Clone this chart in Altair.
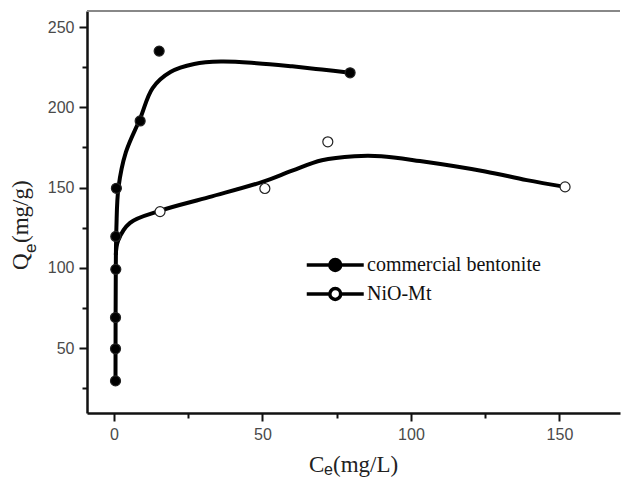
import altair as alt
import pandas as pd

# ---- data ----
series_names = ["commercial bentonite", "NiO-Mt"]

bent_x = [0.5, 0.5, 0.5, 0.6, 0.6, 0.8, 8.8, 15.2, 79.5]
bent_y = [29.5, 49.5, 69.0, 99.0, 119.5, 149.5, 191.5, 235.0, 221.5]

nio_x = [15.5, 50.8, 72.0, 151.9]
nio_y = [135.0, 149.4, 178.5, 150.4]

bent_fit_x = [0.5, 0.6, 0.8, 1.5, 4.0, 8.8, 13.0, 19.0, 27.0, 36.0, 48.0, 60.0, 70.0, 79.5]
bent_fit_y = [30.0, 100.0, 125.0, 150.0, 172.0, 193.0, 212.0, 222.0, 227.0, 228.5, 227.5, 225.5, 223.5, 221.5]

nio_fit_x = [0.6, 1.4, 5.4, 15.5, 32.0, 50.0, 60.0, 70.0, 81.0, 90.0, 103.0, 125.0, 139.0, 151.9]
nio_fit_y = [108.0, 117.0, 128.0, 135.5, 144.0, 153.5, 160.5, 167.0, 169.5, 169.5, 166.5, 160.0, 154.6, 150.4]

x_ticks = [0, 25, 50, 75, 100, 125, 150]
y_ticks = [25, 50, 75, 100, 125, 150, 175, 200, 225, 250]

x_title = ["C", "e", "(mg/L)"]
y_title = ["Q", "e", "(mg/g)"]

pts = pd.DataFrame(
    {"x": bent_x + nio_x,
     "y": bent_y + nio_y,
     "series": [series_names[0]] * len(bent_x) + [series_names[1]] * len(nio_x)}
)
fit = pd.DataFrame(
    {"x": bent_fit_x + nio_fit_x,
     "y": bent_fit_y + nio_fit_y,
     "series": [series_names[0]] * len(bent_fit_x) + [series_names[1]] * len(nio_fit_x),
     "i": list(range(len(bent_fit_x))) + list(range(len(nio_fit_x)))}
)

W, H = 533, 402

xscale = alt.Scale(domain=[-9.1, 170.4], nice=False, zero=False)
yscale = alt.Scale(domain=[9.5, 260], nice=False, zero=False)

common_axis = dict(
    grid=False, title=None,
    domainColor="#111", domainWidth=2.5,
    tickColor="#111", tickWidth=2,
    labelFont="Liberation Sans", labelFontSize=16, labelColor="#4a4a4a",
    labelPadding=5,
    labelExpr="datum.value % 50 === 0 ? datum.label : ''",
    tickSize={"condition": {"test": "datum.value % 50 === 0", "value": 8}, "value": 5},
)

xaxis = alt.Axis(values=x_ticks, **common_axis)
yaxis = alt.Axis(values=y_ticks, **common_axis)

lines = alt.Chart(fit).mark_line(
    color="black", strokeWidth=4, interpolate="catmull-rom"
).encode(
    x=alt.X("x:Q", scale=xscale, axis=xaxis),
    y=alt.Y("y:Q", scale=yscale, axis=yaxis),
    detail="series:N",
    order="i:Q",
)

legend_path = ("M-1,0L0.62,0M1.38,0L3,0"
               "M0.62,0A0.38,0.38 0 1,1 1.38,0A0.38,0.38 0 1,1 0.62,0Z")

points = alt.Chart(pts).mark_circle(
    size=100, opacity=1, stroke="#222", strokeWidth=1.2
).encode(
    x=alt.X("x:Q", scale=xscale),
    y=alt.Y("y:Q", scale=yscale),
    fill=alt.Fill(
        "series:N",
        scale=alt.Scale(domain=series_names, range=["black", "white"]),
        legend=alt.Legend(
            title=None, orient="none", legendX=218, legendY=238,
            symbolType=legend_path, symbolSize=812,
            symbolStrokeColor="black", symbolStrokeWidth=3.5,
            labelOffset=30, rowPadding=0, padding=0, labelLimit=0,
            labelFont="Liberation Serif", labelFontSize=20, labelColor="#111",
        ),
    ),
)

one = pd.DataFrame({"a": [0]})

topline = alt.Chart(one).mark_rule(color="#888888", strokeWidth=2).encode(
    x=alt.value(0), x2=alt.value(W), y=alt.value(0)
)


def piece(txt, x, y, font, size, angle=0):
    return alt.Chart(one).mark_text(
        text=txt, font=font, fontSize=size, color="#222",
        align="left", baseline="alphabetic", angle=angle,
    ).encode(x=alt.value(x), y=alt.value(y))


serif, sans = "Liberation Serif", "Liberation Sans"
titles = [
    piece(x_title[0], 222, 461, serif, 23),
    piece(x_title[1], 237, 464, sans, 16),
    piece(x_title[2], 246, 461, serif, 23),
    piece(y_title[0], -59, 259, serif, 23, 270),
    piece(y_title[1], -51, 242, sans, 17, 270),
    piece(y_title[2], -59, 232, serif, 23, 270),
]

chart = alt.layer(lines, points, topline, *titles).properties(
    width=W, height=H,
    autosize=alt.AutoSizeParams(type="none"),
    padding={"left": 87, "top": 11, "right": 1, "bottom": 66},
    background="white",
).configure_view(stroke=None)

chart.save("out.html", embed_options={"renderer": "svg", "actions": False})
